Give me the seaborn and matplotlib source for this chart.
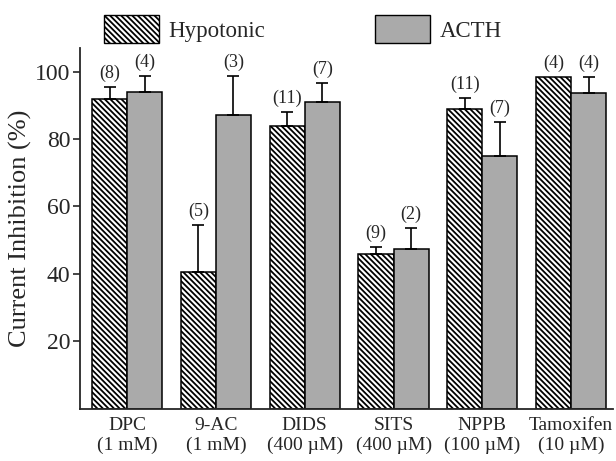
import matplotlib
matplotlib.use('Agg')
import matplotlib.pyplot as plt
import seaborn as sns
import pandas as pd
from matplotlib.patches import Patch

# data
drugs = ['DPC\n(1 mM)', '9-AC\n(1 mM)', 'DIDS\n(400 µM)', 'SITS\n(400 µM)',
         'NPPB\n(100 µM)', 'Tamoxifen\n(10 µM)']
hypo_mean = [92, 40.5, 84, 46, 89, 98.5]
hypo_err = [3.5, 14, 4, 2, 3.2, 0]
hypo_n = [8, 5, 11, 9, 11, 4]
acth_mean = [94, 87, 91, 47.5, 75, 93.5]
acth_err = [4.7, 11.8, 5.5, 6, 10, 5]
acth_n = [4, 3, 7, 2, 7, 4]

gray = '#aaaaaa'
hatch = '\\' * 6

df = pd.DataFrame({
    'drug': drugs * 2,
    'cond': ['Hypotonic'] * len(drugs) + ['ACTH'] * len(drugs),
    'value': hypo_mean + acth_mean,
})

sns.set_style('ticks')
plt.rcParams['font.family'] = ['Liberation Serif', 'DejaVu Serif']
plt.rcParams['hatch.linewidth'] = 1.3
plt.rcParams['hatch.color'] = 'black'

fig = plt.figure(figsize=(6.16, 4.61), dpi=100)
ax = fig.add_axes([0.13, 0.113, 0.865, 0.783])

sns.barplot(data=df, x='drug', y='value', hue='cond', order=drugs,
            hue_order=['Hypotonic', 'ACTH'], palette=['white', gray],
            width=0.79, errorbar=None, edgecolor='black', linewidth=1.1,
            legend=False, ax=ax)

n = len(drugs)
patches = ax.patches[:2 * n]
means = hypo_mean + acth_mean
errs = hypo_err + acth_err
ns = hypo_n + acth_n
for i, p in enumerate(patches):
    if i < n:
        p.set_hatch(hatch)
        p.set_facecolor('white')
    xc = p.get_x() + p.get_width() / 2
    top = means[i]
    if errs[i] > 0:
        ax.errorbar(xc, top, yerr=[[0], [errs[i]]], fmt='none', ecolor='black',
                    elinewidth=1.2, capsize=4.5, capthick=1.2, zorder=1)
    ax.text(xc, top + errs[i] + 1.5, f'({ns[i]})', ha='center', va='bottom',
            fontsize=13)

ax.set_xlim(-0.53, 5.47)
ax.set_ylim(0, 107)
ax.set_yticks([20, 40, 60, 80, 100])
ax.set_ylabel('Current Inhibition (%)', fontsize=19, labelpad=2)
ax.set_xlabel('')
ax.tick_params(axis='y', labelsize=17, length=5, width=1.2, direction='out', pad=2)
ax.tick_params(axis='x', labelsize=14, length=0, pad=6)
for s in ['left', 'bottom']:
    ax.spines[s].set_linewidth(1.3)
sns.despine(ax=ax)

handles = [Patch(facecolor='white', edgecolor='black', hatch=hatch, label='Hypotonic'),
           Patch(facecolor=gray, edgecolor='black', label='ACTH')]
fig.legend(handles=handles, loc='upper left', bbox_to_anchor=(0.136, 1.012), ncol=2,
           frameon=False, fontsize=16.5, handlelength=2.4, handleheight=1.5,
           columnspacing=4.8, handletextpad=0.4)

fig.savefig('out.png', dpi=100)
